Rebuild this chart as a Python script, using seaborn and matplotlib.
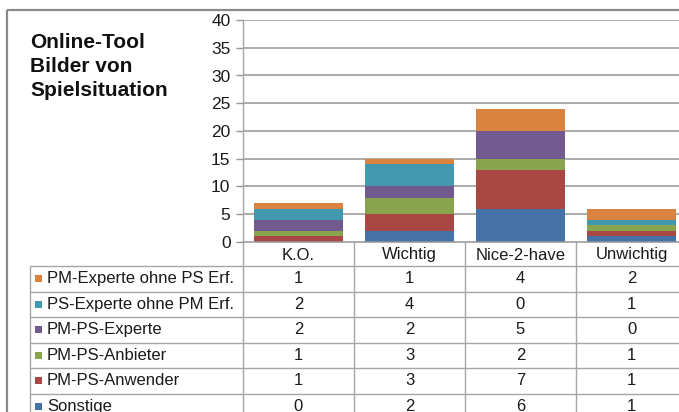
import matplotlib
matplotlib.use("Agg")
import matplotlib.pyplot as plt
import matplotlib.transforms as mtransforms
from matplotlib.patches import Rectangle
import seaborn as sns

categories = ["K.O.", "Wichtig", "Nice-2-have", "Unwichtig"]
series_names = ["PM-Experte ohne PS Erf.", "PS-Experte ohne PM Erf.", "PM-PS-Experte",
                "PM-PS-Anbieter", "PM-PS-Anwender", "Sonstige"]
pm_experte = [1, 1, 4, 2]
ps_experte = [2, 4, 0, 1]
pm_ps_experte = [2, 2, 5, 0]
pm_ps_anbieter = [1, 3, 2, 1]
pm_ps_anwender = [1, 3, 7, 1]
sonstige = [0, 2, 6, 1]
series_values = [pm_experte, ps_experte, pm_ps_experte, pm_ps_anbieter, pm_ps_anwender, sonstige]
colors = ["#DA8340", "#4298AF", "#725A8E", "#88A54D", "#A94745", "#4572A7"]
title = "Online-Tool\nBilder von\nSpielsituation"
yticks = [0, 5, 10, 15, 20, 25, 30, 35, 40]

sns.set_style("white")
plt.rcParams["font.family"] = ["Liberation Sans", "DejaVu Sans"]

W, H = 679, 412
fig = plt.figure(figsize=(W / 100, H / 100), dpi=100)

cat_w = 111
ax_left, ax_right = 243, 243 + 4 * cat_w
ax_top, ax_bottom = 20, 242
ax = fig.add_axes([ax_left / W, 1 - ax_bottom / H, (ax_right - ax_left) / W, (ax_bottom - ax_top) / H])

grid_c = "#959595"
line_c = "#A6A6A6"

# stacked bars, bottom series first
bottom = [0] * len(categories)
for name, vals, col in reversed(list(zip(series_names, series_values, colors))):
    sns.barplot(x=categories, y=vals, bottom=bottom, color=col, width=0.81,
                errorbar=None, saturation=1, linewidth=0, ax=ax, zorder=3)
    bottom = [b + v for b, v in zip(bottom, vals)]

ax.set_xlim(-0.5, len(categories) - 0.5)
ax.set_ylim(0, 40)
ax.set_yticks(yticks)
ax.set_xticks([])
ax.set_xlabel("")
ax.set_ylabel("")
for y in yticks[1:]:
    ax.axhline(y, color=grid_c, lw=1.1, zorder=1)
for s in ["top", "right", "bottom"]:
    ax.spines[s].set_visible(False)
ax.spines["left"].set_color(line_c)
ax.spines["left"].set_linewidth(1.0)
ax.tick_params(axis="y", direction="out", length=5, width=1, color=grid_c,
               labelsize=12.5, pad=4, left=True, labelcolor="#1a1a1a")
ax.set_facecolor("none")

# overlay in pixel coordinates (y downward)
ov = fig.add_axes([0, 0, 1, 1], zorder=5)
ov.set_xlim(0, W)
ov.set_ylim(H, 0)
ov.axis("off")
ov.patch.set_alpha(0)

# outer frame
ov.plot([7, W], [10, 10], color="#8a8a8a", lw=1.6, solid_capstyle="butt")
ov.plot([7, 7], [10, H], color="#8a8a8a", lw=1.6, solid_capstyle="butt")

# title
ov.text(30, 33, title, fontsize=15, fontweight="bold", va="top", ha="left",
        linespacing=1.32, color="#111111")

# data table
blend = mtransforms.blended_transform_factory(ax.transData, ov.transData)
row_tops = [266, 291.5, 317, 342.5, 368, 393.5]
# axis line at 0 / header top
ov.plot([ax_left, W + 10], [ax_bottom, ax_bottom], color=grid_c, lw=1.1)
# horizontal row lines
for yt in row_tops:
    ov.plot([30, W + 10], [yt, yt], color=line_c, lw=1.0)
# left border of label column
ov.plot([30, 30], [row_tops[0], H], color=line_c, lw=1.0)
# vertical category lines
for i in range(len(categories) + 1):
    ov.plot([i - 0.5, i - 0.5], [ax_bottom, H], color=line_c, lw=1.0, transform=blend)
# header labels
for i, c in enumerate(categories):
    ov.text(i, (ax_bottom + row_tops[0]) / 2 + 1, c, ha="center", va="center",
            fontsize=12, transform=blend, color="#1a1a1a")
# rows
for r, (name, vals, col) in enumerate(zip(series_names, series_values, colors)):
    yc = row_tops[r] + 12.6
    ov.add_patch(Rectangle((35, yc - 3.5), 7, 7, color=col, lw=0))
    ov.text(47, yc, name, ha="left", va="center", fontsize=12, color="#1a1a1a")
    for i, v in enumerate(vals):
        ov.text(i, yc, str(v), ha="center", va="center", fontsize=12,
                transform=blend, color="#1a1a1a")

fig.savefig("out.png", dpi=100)
